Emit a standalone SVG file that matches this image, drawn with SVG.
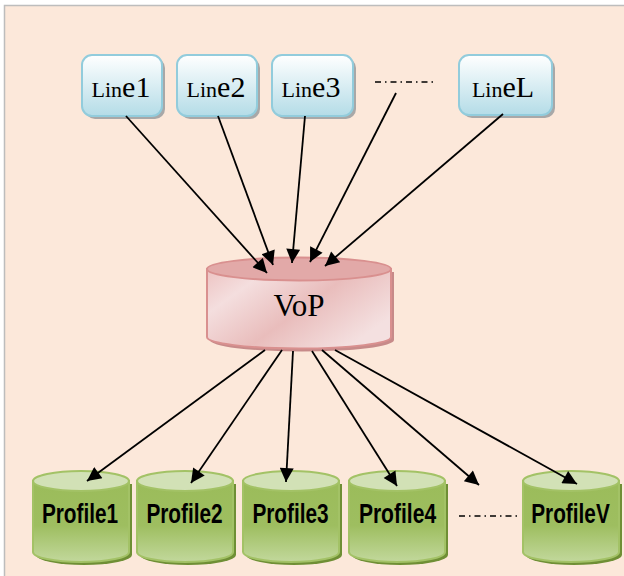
<svg xmlns="http://www.w3.org/2000/svg" width="624" height="576" viewBox="0 0 624 576">
<defs>
<linearGradient id="gLine" x1="0" y1="0" x2="0" y2="1">
<stop offset="0" stop-color="#FFFFFF"/>
<stop offset="1" stop-color="#B4DCE7"/>
</linearGradient>
<linearGradient id="gVop" x1="0" y1="0" x2="1" y2="0.6">
<stop offset="0" stop-color="#EDC3C2"/>
<stop offset="0.25" stop-color="#F4DEDE"/>
<stop offset="0.6" stop-color="#E9BDBC"/>
<stop offset="1" stop-color="#F4E0E0"/>
</linearGradient>
<linearGradient id="gProf" x1="0" y1="0" x2="0" y2="1">
<stop offset="0" stop-color="#9BBC5A"/>
<stop offset="0.55" stop-color="#9EBE60"/>
<stop offset="1" stop-color="#C2D89C"/>
</linearGradient>
<marker id="arr" viewBox="0 0 10 10" refX="10" refY="5" markerWidth="16" markerHeight="14" markerUnits="userSpaceOnUse" orient="auto">
<path d="M0,0 L10,5 L0,10 Z" fill="#000"/>
</marker>
<style>
.linebox{fill:url(#gLine);stroke:#92CCDC;stroke-width:2}
.lshadow{fill:#A8A8A8}
.ltxt{font-family:"Liberation Sans Narrow","Liberation Serif","Times New Roman",serif;fill:#000;text-anchor:middle}
.ptxt{font-family:"Liberation Sans",Arial,sans-serif;font-weight:bold;font-size:27px;fill:#000;text-anchor:middle}
.pbody{fill:url(#gProf);stroke:#A3C266;stroke-width:2}
.ptop{fill:#D2E1B6;stroke:#A3C266;stroke-width:2}
.pshadow{fill:#6F8F35}
.conn{stroke:#000;stroke-width:1.8;fill:none;marker-end:url(#arr)}
.dash{stroke:#000;stroke-width:1.6;fill:none;stroke-dasharray:6 4 1.5 4}
</style>
</defs>
<rect x="0" y="0" width="624" height="576" fill="#FFFFFF"/>
<rect x="4" y="5" width="622" height="575" fill="#FCE8DA"/>
<path d="M4.5,576 L4.5,5.5 L624,5.5" fill="none" stroke="#BDBDBD" stroke-width="1.5"/>

<g id="line1">
<rect class="lshadow" x="85" y="58" width="80" height="61" rx="10"/>
<rect class="linebox" x="82" y="55" width="80" height="61" rx="10"/>
<text class="ltxt" x="121" y="97" font-family="'Liberation Serif','Times New Roman',serif"><tspan font-size="22">Lin</tspan><tspan font-size="30">e1</tspan></text>
</g>
<g id="line2">
<rect class="lshadow" x="180" y="58" width="80" height="61" rx="10"/>
<rect class="linebox" x="177" y="55" width="80" height="61" rx="10"/>
<text class="ltxt" x="216" y="97" font-family="'Liberation Serif','Times New Roman',serif"><tspan font-size="22">Lin</tspan><tspan font-size="30">e2</tspan></text>
</g>
<g id="line3">
<rect class="lshadow" x="275" y="58" width="81" height="61" rx="10"/>
<rect class="linebox" x="272" y="55" width="81" height="61" rx="10"/>
<text class="ltxt" x="311" y="97" font-family="'Liberation Serif','Times New Roman',serif"><tspan font-size="22">Lin</tspan><tspan font-size="30">e3</tspan></text>
</g>
<g id="lineL">
<rect class="lshadow" x="462" y="58" width="93" height="60" rx="10"/>
<rect class="linebox" x="459" y="55" width="93" height="60" rx="10"/>
<text class="ltxt" x="503" y="97" font-family="'Liberation Serif','Times New Roman',serif"><tspan font-size="22">Lin</tspan><tspan font-size="30">eL</tspan></text>
</g>
<path class="dash" d="M375,82 L435,82"/>

<g id="vop">
<path d="M210,272 L210,340 A92,11.5 0 0 0 394,340 L394,272 Z" fill="#C78A89"/>
<path d="M207,269 L207,337 A92,11.5 0 0 0 391,337 L391,269 Z" fill="url(#gVop)" stroke="#D9908F" stroke-width="2"/>
<ellipse cx="299" cy="269" rx="92" ry="11.5" fill="#E2A9A8" stroke="#D9908F" stroke-width="2"/>
<text x="299" y="316" font-family="'Liberation Serif','Times New Roman',serif" font-size="31" text-anchor="middle" fill="#000">VoP</text>
</g>

<g id="profile1">
<path class="pshadow" d="M36,484 L36,555 A48,10 0 0 0 132,555 L132,484 Z"/>
<path class="pbody" d="M33,481 L33,552 A48,10 0 0 0 129,552 L129,481 Z"/>
<ellipse class="ptop" cx="81" cy="481" rx="48" ry="10"/>
<text class="ptxt" transform="translate(80,523) scale(0.77,1)">Profile1</text>
</g>
<g id="profile2">
<path class="pshadow" d="M140,484 L140,555 A48,10 0 0 0 236,555 L236,484 Z"/>
<path class="pbody" d="M137,481 L137,552 A48,10 0 0 0 233,552 L233,481 Z"/>
<ellipse class="ptop" cx="185" cy="481" rx="48" ry="10"/>
<text class="ptxt" transform="translate(184.5,523) scale(0.77,1)">Profile2</text>
</g>
<g id="profile3">
<path class="pshadow" d="M246,484 L246,555 A48,10 0 0 0 342,555 L342,484 Z"/>
<path class="pbody" d="M243,481 L243,552 A48,10 0 0 0 339,552 L339,481 Z"/>
<ellipse class="ptop" cx="291" cy="481" rx="48" ry="10"/>
<text class="ptxt" transform="translate(290.5,523) scale(0.77,1)">Profile3</text>
</g>
<g id="profile4">
<path class="pshadow" d="M352,484 L352,555 A48,10 0 0 0 448,555 L448,484 Z"/>
<path class="pbody" d="M349,481 L349,552 A48,10 0 0 0 445,552 L445,481 Z"/>
<ellipse class="ptop" cx="397" cy="481" rx="48" ry="10"/>
<text class="ptxt" transform="translate(397.5,523) scale(0.78,1)">Profile4</text>
</g>
<g id="profileV">
<path class="pshadow" d="M526,484 L526,555 A48,10 0 0 0 622,555 L622,484 Z"/>
<path class="pbody" d="M523,481 L523,552 A48,10 0 0 0 619,552 L619,481 Z"/>
<ellipse class="ptop" cx="571" cy="481" rx="48" ry="10"/>
<text class="ptxt" transform="translate(570.5,523) scale(0.77,1)">ProfileV</text>
</g>
<path class="dash" d="M459,516 L519,516"/>

<g id="connectors">
<line class="conn" x1="126" y1="116" x2="267" y2="273"/>
<line class="conn" x1="218" y1="116" x2="273" y2="265"/>
<line class="conn" x1="305" y1="116" x2="292" y2="263"/>
<line class="conn" x1="396" y1="93" x2="310" y2="262"/>
<line class="conn" x1="503" y1="114" x2="325" y2="266"/>
<line class="conn" x1="265" y1="350" x2="87" y2="481"/>
<line class="conn" x1="282" y1="350" x2="191" y2="483"/>
<line class="conn" x1="293" y1="351" x2="286" y2="482"/>
<line class="conn" x1="312" y1="351" x2="397" y2="486"/>
<line class="conn" x1="322" y1="350" x2="479" y2="485"/>
<line class="conn" x1="335" y1="350" x2="577" y2="484"/>
</g>
</svg>
